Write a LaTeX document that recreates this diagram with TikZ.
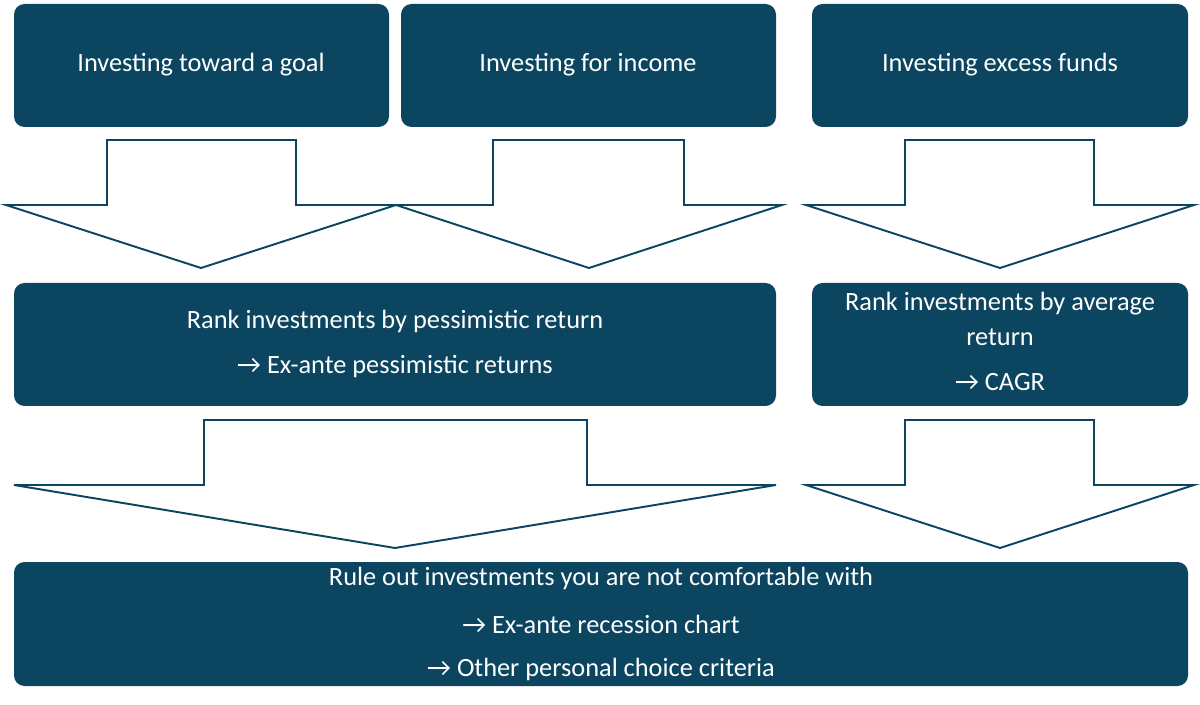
\documentclass[tikz,border=0pt]{standalone}
\usepackage{fontspec}
\setmainfont{Carlito}
\definecolor{teal}{HTML}{0B4560}
\begin{document}
\begin{tikzpicture}[x=0.02cm,y=-0.02cm,
  box/.style={fill=teal,rounded corners=6pt},
  txt/.style={text=white,font=\fontsize{15}{18}\selectfont,anchor=center},
  bigarrow/.style={draw=teal,fill=white,line width=1.1pt,line join=miter}]
\useasboundingbox (0,0) rectangle (1200,705);
\newcommand\downarrowshape[7]{% shaftL shaftR top shoulder wingL wingR tipy
  \path[bigarrow] (#1,#3) -- (#2,#3) -- (#2,#4) -- (#6,#4) -- ({(#5+#6)/2},#7) -- (#5,#4) -- (#1,#4) -- cycle;}
\fill[box] (14,4) rectangle (389,127);
\fill[box] (401,4) rectangle (776,127);
\fill[box] (812,4) rectangle (1188,127);
\fill[box] (14,283) rectangle (776,406);
\fill[box] (812,283) rectangle (1188,406);
\fill[box] (14,562) rectangle (1188,686);
\node[txt] (t1) at (201,65) {Investing toward a goal};
\node[txt] (t2) at (588,65) {Investing for income};
\node[txt] (t3) at (1000,65) {Investing excess funds};
\node[txt] (t4a) at (395,321) {Rank investments by pessimistic return};
\node[txt] (t4b) at (395,367) {→ Ex-ante pessimistic returns};
\node[txt] (t5a) at (1000,304) {Rank investments by average};
\node[txt] (t5b) at (1000,337) {return};
\node[txt] (t5c) at (1000,382) {→ CAGR};
\node[txt] (t6a) at (601,578) {Rule out investments you are not comfortable with};
\node[txt] (t6b) at (601,624) {→ Ex-ante recession chart};
\node[txt] (t6c) at (601,669) {→ Other personal choice criteria};
\downarrowshape{107}{296}{140}{205}{6}{396}{268}
\downarrowshape{493}{684}{140}{205}{396}{782}{268}
\downarrowshape{905}{1094}{140}{205}{806}{1194}{268}
\downarrowshape{204}{587}{420}{485}{14}{776}{548}
\downarrowshape{905}{1094}{420}{485}{806}{1194}{548}
\end{tikzpicture}
\end{document}
